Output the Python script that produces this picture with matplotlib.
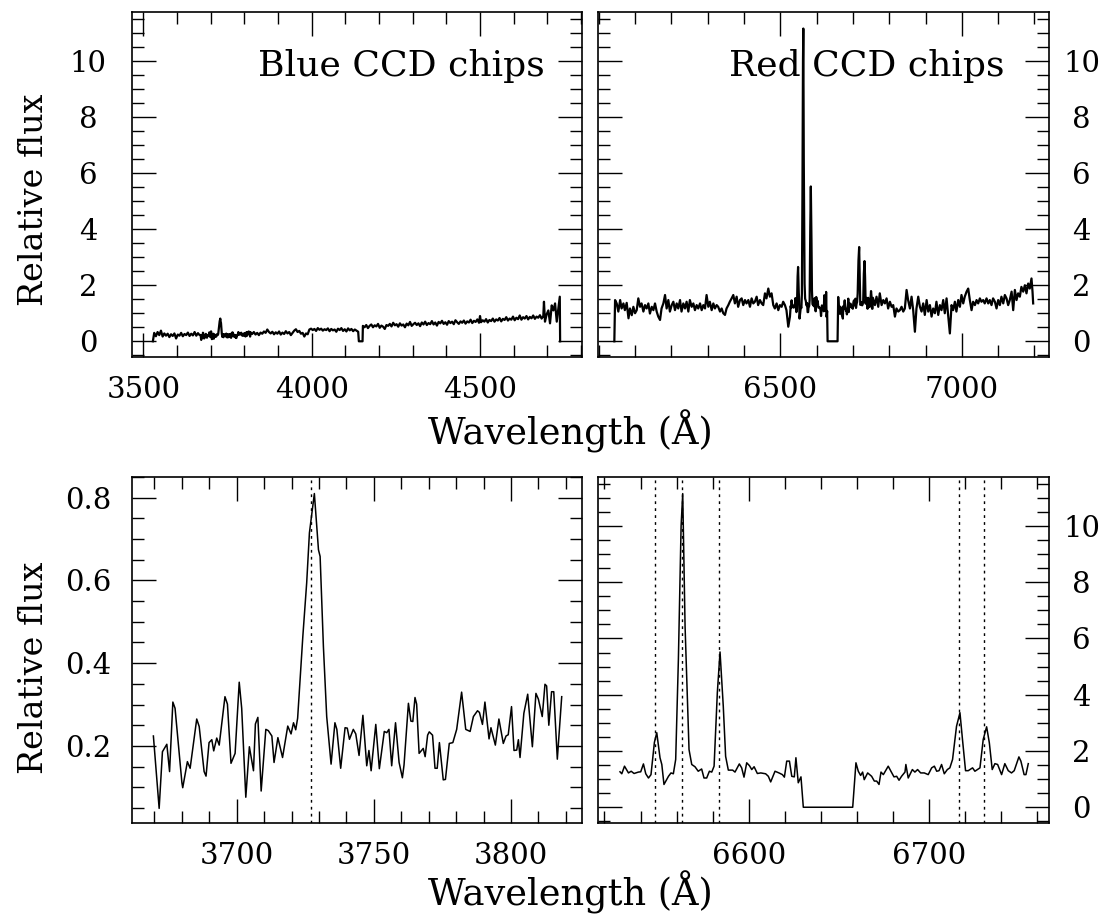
import matplotlib
matplotlib.use("Agg")
import matplotlib.pyplot as plt
from matplotlib.ticker import MultipleLocator, FixedLocator, FormatStrFormatter

plt.rcParams['font.family'] = ['DejaVu Serif']

# ---------------- data ----------------
# Zoomed blue region around [OII] 3727 (bottom-left panel)
blue_zoom_wave = [3669.6, 3671.7, 3672.9, 3674.5, 3675.5, 3676.7, 3677.5, 3680.0, 3680.3, 3682.0,
                  3683.0, 3685.4, 3686.3, 3688.1, 3688.8, 3689.9, 3690.9, 3691.6, 3692.7, 3693.6,
                  3695.7, 3696.6, 3697.9, 3699.4, 3700.9, 3701.8, 3703.3, 3704.6, 3706.1, 3706.8,
                  3707.7, 3708.9, 3710.6, 3711.5, 3712.8, 3713.6, 3715.0, 3716.7, 3718.6, 3719.8,
                  3720.7, 3721.5, 3722.2, 3724.1, 3725.5, 3726.5, 3728.3, 3729.8, 3730.4, 3731.6,
                  3732.8, 3734.4, 3735.8, 3736.5, 3737.9, 3739.5, 3740.3, 3741.1, 3742.5, 3743.4,
                  3744.6, 3746.0, 3747.4, 3748.2, 3749.0, 3750.7, 3752.0, 3753.8, 3754.7, 3755.5,
                  3756.5, 3757.9, 3759.2, 3760.4, 3761.0, 3762.6, 3763.5, 3764.2, 3765.0, 3765.6,
                  3766.5, 3768.0, 3768.7, 3769.6, 3770.2, 3771.4, 3772.3, 3773.1, 3773.9, 3775.3,
                  3776.1, 3777.5, 3778.8, 3780.2, 3782.0, 3783.5, 3785.1, 3786.3, 3787.8, 3788.5,
                  3789.6, 3790.5, 3792.0, 3792.7, 3794.3, 3795.6, 3797.2, 3798.2, 3799.0, 3800.2,
                  3801.1, 3802.1, 3802.7, 3803.3, 3804.7, 3806.1, 3807.8, 3809.1, 3810.0, 3811.4,
                  3812.4, 3813.0, 3813.8, 3814.8, 3815.6, 3816.9, 3818.5]
blue_zoom_flux = [0.224, 0.049, 0.186, 0.204, 0.138, 0.306, 0.291, 0.111, 0.099, 0.162,
                  0.146, 0.265, 0.247, 0.138, 0.127, 0.208, 0.215, 0.188, 0.219, 0.202,
                  0.319, 0.301, 0.158, 0.182, 0.354, 0.291, 0.076, 0.198, 0.140, 0.253,
                  0.269, 0.091, 0.240, 0.237, 0.224, 0.160, 0.220, 0.172, 0.248, 0.229,
                  0.256, 0.239, 0.267, 0.465, 0.594, 0.715, 0.810, 0.674, 0.658, 0.440,
                  0.271, 0.156, 0.256, 0.240, 0.146, 0.244, 0.243, 0.216, 0.240, 0.229,
                  0.177, 0.274, 0.152, 0.189, 0.140, 0.252, 0.145, 0.235, 0.232, 0.240,
                  0.152, 0.256, 0.160, 0.123, 0.154, 0.303, 0.260, 0.259, 0.317, 0.301,
                  0.182, 0.194, 0.174, 0.226, 0.234, 0.226, 0.146, 0.146, 0.208, 0.118,
                  0.119, 0.206, 0.208, 0.240, 0.330, 0.240, 0.235, 0.271, 0.285, 0.281,
                  0.252, 0.306, 0.217, 0.244, 0.202, 0.265, 0.206, 0.224, 0.227, 0.295,
                  0.189, 0.190, 0.215, 0.172, 0.279, 0.325, 0.198, 0.327, 0.313, 0.271,
                  0.349, 0.345, 0.250, 0.331, 0.331, 0.168, 0.319]

# Zoomed red region around Halpha (bottom-right panel)
red_zoom_wave = [6528.6, 6529.6, 6531.1, 6533.3, 6534.8, 6536.4, 6538.8, 6540.1, 6541.6, 6542.9,
                 6544.4, 6545.8, 6547.7, 6549.0, 6550.8, 6551.8, 6553.0, 6555.5, 6556.9, 6558.2,
                 6559.5, 6561.0, 6562.5, 6563.4, 6564.7, 6566.9, 6568.4, 6570.2, 6572.0, 6573.9,
                 6575.2, 6576.7, 6578.2, 6579.5, 6580.8, 6582.6, 6584.1, 6585.9, 6587.2, 6588.7,
                 6591.1, 6592.4, 6594.8, 6596.1, 6597.4, 6598.9, 6600.4, 6601.7, 6603.0, 6604.8,
                 6606.7, 6609.4, 6610.9, 6612.2, 6614.6, 6616.8, 6618.7, 6619.8, 6621.1, 6622.6,
                 6623.9, 6625.3, 6626.2, 6627.5, 6629.0, 6630.3, 6657.7, 6659.5, 6660.8, 6662.1,
                 6663.2, 6664.1, 6666.0, 6668.2, 6669.7, 6671.0, 6672.3, 6673.4, 6674.7, 6677.4,
                 6678.9, 6680.6, 6682.1, 6683.4, 6684.8, 6686.7, 6687.2, 6688.5, 6690.8, 6692.2,
                 6693.7, 6695.4, 6697.4, 6699.6, 6701.5, 6703.0, 6704.3, 6705.6, 6707.0, 6708.5,
                 6710.2, 6711.6, 6713.1, 6715.3, 6717.2, 6718.6, 6720.3, 6721.8, 6724.2, 6725.5,
                 6728.3, 6730.1, 6732.0, 6733.5, 6735.1, 6736.6, 6738.1, 6740.3, 6742.1, 6744.0,
                 6745.8, 6747.3, 6749.9, 6751.0, 6752.8, 6753.8, 6755.1]
red_zoom_flux = [1.26, 1.19, 1.46, 1.22, 1.28, 1.20, 1.25, 1.26, 1.54, 1.19,
                 1.04, 1.16, 2.31, 2.65, 1.76, 1.52, 0.81, 1.10, 1.22, 1.19,
                 1.70, 5.26, 10.0, 11.15, 6.44, 2.05, 1.52, 1.44, 1.28, 1.36,
                 1.04, 1.04, 1.28, 1.25, 1.46, 4.07, 5.52, 3.59, 1.81, 1.32,
                 1.32, 1.25, 1.54, 1.40, 1.07, 1.58, 1.48, 1.34, 1.44, 1.20,
                 1.22, 1.19, 1.10, 0.90, 1.28, 1.22, 1.16, 1.07, 1.64, 1.64,
                 1.10, 1.08, 1.76, 0.87, 1.08, 0.0, 0.0, 1.58, 1.28, 1.13,
                 1.25, 0.98, 1.22, 1.10, 0.93, 0.93, 0.81, 1.25, 1.16, 1.46,
                 1.28, 1.08, 1.10, 0.96, 1.10, 1.25, 1.52, 1.04, 1.34, 1.25,
                 1.34, 1.22, 1.22, 1.16, 1.40, 1.46, 1.28, 1.30, 1.52, 1.19,
                 1.34, 1.40, 1.70, 2.88, 3.36, 2.41, 1.30, 1.30, 1.40, 1.28,
                 1.40, 2.41, 2.86, 2.29, 1.34, 1.55, 1.52, 1.16, 1.55, 1.30,
                 1.22, 1.30, 1.79, 1.64, 1.16, 1.16, 1.55]

# Full blue-chip spectrum outside the zoomed window
blue_pre_wave = [3528, 3532, 3537, 3542, 3547, 3552, 3557, 3562, 3567, 3572,
                 3577, 3582, 3587, 3592, 3597, 3602, 3607, 3612, 3617, 3622,
                 3627, 3632, 3637, 3642, 3647, 3652, 3657, 3662, 3666]
blue_pre_flux = [0.0, 0.30, 0.18, 0.33, 0.22, 0.38, 0.17, 0.28, 0.20, 0.27,
                 0.15, 0.25, 0.19, 0.28, 0.10, 0.24, 0.20, 0.30, 0.18, 0.26,
                 0.22, 0.31, 0.19, 0.27, 0.21, 0.33, 0.20, 0.29, 0.23]
blue_post_wave = [3823, 3828, 3833, 3838, 3843, 3848, 3853, 3858, 3863, 3868,
                  3873, 3878, 3883, 3888, 3893, 3898, 3903, 3908, 3913, 3918,
                  3923, 3928, 3933, 3938, 3943, 3948, 3953, 3958, 3963, 3968,
                  3973, 3978, 3983, 3988, 3993, 3998, 4003, 4008, 4013, 4018,
                  4023, 4028, 4033, 4038, 4043, 4048, 4053, 4058, 4063, 4068,
                  4073, 4078, 4083, 4088, 4093, 4098, 4103, 4108, 4113, 4118,
                  4123, 4128, 4133, 4138, 4140, 4151, 4152, 4157, 4162, 4167,
                  4172, 4177, 4182, 4187, 4192, 4197, 4202, 4207, 4212, 4217,
                  4222, 4227, 4232, 4237, 4242, 4247, 4252, 4257, 4262, 4267,
                  4272, 4277, 4282, 4287, 4292, 4297, 4302, 4307, 4312, 4317,
                  4322, 4327, 4332, 4337, 4342, 4347, 4352, 4357, 4362, 4367,
                  4372, 4377, 4382, 4387, 4392, 4397, 4402, 4407, 4412, 4417,
                  4422, 4427, 4432, 4437, 4442, 4447, 4452, 4457, 4462, 4467,
                  4472, 4477, 4482, 4487, 4492, 4497, 4500, 4503, 4508, 4513,
                  4518, 4523, 4528, 4533, 4538, 4543, 4548, 4553, 4558, 4563,
                  4568, 4573, 4578, 4583, 4588, 4593, 4598, 4603, 4608, 4613,
                  4618, 4623, 4628, 4633, 4638, 4643, 4648, 4653, 4658, 4663,
                  4668, 4673, 4678, 4683, 4688, 4690, 4693, 4698, 4703, 4708,
                  4713, 4718, 4723, 4728, 4733, 4737, 4738]
blue_post_flux = [0.26, 0.33, 0.24, 0.30, 0.22, 0.31, 0.27, 0.35, 0.30, 0.42,
                  0.33, 0.28, 0.34, 0.25, 0.32, 0.27, 0.35, 0.24, 0.31, 0.26,
                  0.36, 0.28, 0.33, 0.22, 0.30, 0.38, 0.43, 0.33, 0.37, 0.27,
                  0.30, 0.17, 0.28, 0.25, 0.42, 0.45, 0.40, 0.44, 0.37, 0.47,
                  0.41, 0.45, 0.38, 0.43, 0.40, 0.46, 0.36, 0.44, 0.39, 0.42,
                  0.34, 0.45, 0.40, 0.47, 0.37, 0.43, 0.35, 0.46, 0.39, 0.44,
                  0.36, 0.42, 0.38, 0.34, 0.0, 0.0, 0.55, 0.50, 0.58, 0.47,
                  0.55, 0.60, 0.50, 0.57, 0.53, 0.62, 0.48, 0.56, 0.52, 0.44,
                  0.58, 0.55, 0.62, 0.53, 0.66, 0.57, 0.61, 0.52, 0.64, 0.56,
                  0.60, 0.50, 0.63, 0.57, 0.69, 0.55, 0.61, 0.66, 0.58, 0.64,
                  0.54, 0.67, 0.60, 0.70, 0.58, 0.65, 0.61, 0.72, 0.60, 0.67,
                  0.56, 0.69, 0.64, 0.73, 0.62, 0.68, 0.59, 0.72, 0.65, 0.70,
                  0.61, 0.75, 0.68, 0.62, 0.71, 0.66, 0.74, 0.63, 0.71, 0.67,
                  0.77, 0.65, 0.73, 0.69, 0.78, 0.66, 0.90, 0.68, 0.75, 0.70,
                  0.79, 0.67, 0.76, 0.72, 0.81, 0.70, 0.78, 0.74, 0.83, 0.71,
                  0.80, 0.76, 0.86, 0.74, 0.81, 0.77, 0.88, 0.75, 0.84, 0.79,
                  0.92, 0.77, 0.86, 0.81, 0.90, 0.78, 0.87, 0.82, 0.92, 0.80,
                  0.88, 0.84, 0.93, 0.81, 0.90, 1.41, 0.70, 0.96, 1.10, 0.64,
                  1.28, 1.10, 1.35, 0.70, 1.20, 1.59, 0.0]

# Full red-chip spectrum outside the zoomed window
red_pre_wave = [6043, 6045, 6049.5, 6054, 6059, 6063, 6068, 6072, 6077, 6082,
                6086, 6091, 6095.4, 6100, 6104.6, 6109, 6113.8, 6118, 6123, 6127.5,
                6132, 6136.7, 6141, 6146, 6150.5, 6155, 6159.6, 6164, 6168.8, 6173,
                6178, 6182.6, 6187, 6191.7, 6196, 6201, 6205.5, 6210, 6214.7, 6219,
                6223.9, 6228, 6233, 6237.6, 6242, 6246.8, 6251, 6256, 6260.6, 6265,
                6269.7, 6274, 6279, 6283.5, 6288, 6292.7, 6297, 6301.8, 6306, 6311,
                6315.6, 6320, 6324.8, 6329, 6334, 6338.5, 6343, 6347.7, 6352, 6356.9,
                6361, 6366, 6370.6, 6375, 6379.8, 6384, 6389, 6393.6, 6398, 6402.8,
                6407, 6412, 6416.5, 6421, 6425.7, 6430, 6434.9, 6439, 6444, 6448.6,
                6453, 6457.8, 6462, 6467, 6471.4, 6476, 6480.7, 6485, 6489.9, 6494.5,
                6499, 6503.7, 6508, 6512.8, 6517, 6522, 6526.6]
red_pre_flux = [0.0, 1.47, 1.35, 1.06, 1.47, 1.17, 1.35, 1.11, 1.37, 0.82,
                1.17, 0.93, 1.23, 1.00, 1.11, 1.53, 1.23, 1.35, 1.06, 1.29,
                1.17, 1.35, 0.99, 1.23, 1.11, 1.35, 1.06, 0.88, 0.76, 1.17,
                1.35, 1.65, 1.17, 1.47, 1.06, 1.29, 1.41, 1.11, 1.35, 1.17,
                1.47, 1.06, 1.35, 1.17, 1.41, 1.06, 1.47, 1.23, 1.35, 1.11,
                1.29, 1.17, 1.35, 1.11, 1.29, 1.17, 1.65, 1.23, 1.41, 1.11,
                1.35, 1.17, 1.29, 1.23, 1.06, 1.17, 1.00, 0.94, 1.17, 1.29,
                1.41, 1.53, 1.65, 1.35, 1.59, 1.23, 1.47, 1.53, 1.29, 1.47,
                1.35, 1.47, 1.23, 1.53, 1.35, 1.41, 1.59, 1.29, 1.47, 1.35,
                1.29, 1.71, 1.53, 1.88, 1.59, 1.71, 1.29, 1.17, 1.35, 1.11,
                1.29, 1.23, 1.41, 1.29, 1.11, 0.52, 0.88]
red_post_wave = [6760.6, 6765, 6769.8, 6774, 6779, 6783.6, 6788, 6792.7, 6797, 6801.9,
                 6806.5, 6811, 6815.7, 6820, 6824.8, 6829.4, 6834, 6838.6, 6843, 6847.8,
                 6852, 6857, 6861.5, 6866, 6870.7, 6875, 6879.9, 6884.5, 6889, 6893.6,
                 6898, 6903, 6907.4, 6912, 6916.6, 6921, 6925.8, 6930, 6935, 6939.5,
                 6944, 6948.7, 6953, 6957.9, 6962.5, 6967, 6971.6, 6976, 6980.8, 6985,
                 6990, 6994.6, 6999, 7003.8, 7008, 7013, 7017.5, 7022, 7026.7, 7031,
                 7036, 7040.5, 7045, 7049.6, 7054, 7058.8, 7063, 7068, 7072.6, 7077,
                 7081.7, 7086, 7091, 7095.5, 7100, 7104.7, 7109, 7114, 7118.4, 7123,
                 7127.6, 7132, 7137, 7141.4, 7146, 7150.6, 7155, 7159.7, 7164, 7169,
                 7173.5, 7178, 7182.7, 7187, 7191.8, 7194.6, 7196.4]
red_post_flux = [1.29, 1.59, 1.23, 1.71, 1.29, 1.47, 1.35, 1.53, 1.17, 1.41,
                 1.23, 1.29, 0.88, 1.17, 1.06, 1.11, 1.23, 1.06, 1.17, 1.83,
                 1.47, 1.17, 1.59, 1.11, 0.34, 1.17, 1.59, 1.23, 1.06, 1.35,
                 0.94, 1.47, 1.06, 1.29, 0.88, 1.17, 1.00, 1.41, 0.94, 1.29,
                 1.11, 1.47, 1.00, 1.53, 0.88, 0.28, 1.29, 1.11, 1.41, 1.06,
                 1.47, 1.23, 1.65, 1.35, 1.59, 1.77, 1.88, 1.47, 1.11, 1.41,
                 1.29, 1.47, 1.35, 1.53, 1.41, 1.47, 1.35, 1.53, 1.35, 1.47,
                 1.29, 1.53, 1.41, 1.17, 1.47, 1.29, 1.59, 1.35, 1.65, 1.53,
                 1.29, 1.47, 1.77, 1.11, 1.83, 1.47, 1.71, 1.59, 1.94, 1.77,
                 2.00, 1.71, 2.06, 1.88, 2.24, 1.77, 1.35]

# Emission-line markers (dotted)
oii_lines = [3727.1]
red_lines = [6548.1, 6562.8, 6583.4, 6716.6, 6730.8]

# Tick settings
tl_major = [3500, 4000, 4500]
tr_major = [6500, 7000]
bl_major = [3700, 3750, 3800]
br_major = [6600, 6700]

# ---------------- figure ----------------
W, H = 1117, 923
fig = plt.figure(figsize=(W / 100, H / 100), dpi=100)

def box(x0, y0, x1, y1):
    return [x0 / W, 1 - y1 / H, (x1 - x0) / W, (y1 - y0) / H]

ax_tl = fig.add_axes(box(132, 12, 582, 357))
ax_tr = fig.add_axes(box(598, 12, 1049, 357))
ax_bl = fig.add_axes(box(132, 477, 582, 823))
ax_br = fig.add_axes(box(598, 477, 1049, 823))

blue_w = blue_pre_wave + blue_zoom_wave + blue_post_wave
blue_f = blue_pre_flux + blue_zoom_flux + blue_post_flux
red_w = red_pre_wave + red_zoom_wave + red_post_wave
red_f = red_pre_flux + red_zoom_flux + red_post_flux

ax_tl.plot(blue_w, blue_f, color='black', lw=1.6)
ax_tr.plot(red_w, red_f, color='black', lw=1.6)
ax_bl.plot(blue_zoom_wave, blue_zoom_flux, color='black', lw=1.1)
ax_br.plot(red_zoom_wave, red_zoom_flux, color='black', lw=1.1)

for w in oii_lines:
    ax_bl.axvline(w, color='black', lw=1.0, ls=(0, (2, 3)))
for w in red_lines:
    ax_br.axvline(w, color='black', lw=1.0, ls=(0, (2, 3)))

ax_tl.set_xlim(3466, 4803)
ax_tr.set_xlim(5998, 7240)
ax_bl.set_xlim(3661.8, 3825.9)
ax_br.set_xlim(6516.4, 6766.6)
for a in (ax_tl, ax_tr, ax_br):
    a.set_ylim(-0.56, 11.74)
ax_bl.set_ylim(0.0137, 0.850)

ax_tl.xaxis.set_major_locator(FixedLocator(tl_major))
ax_tl.xaxis.set_minor_locator(MultipleLocator(100))
ax_tr.xaxis.set_major_locator(FixedLocator(tr_major))
ax_tr.xaxis.set_minor_locator(MultipleLocator(100))
ax_bl.xaxis.set_major_locator(FixedLocator(bl_major))
ax_bl.xaxis.set_minor_locator(MultipleLocator(10))
ax_br.xaxis.set_major_locator(FixedLocator(br_major))
ax_br.xaxis.set_minor_locator(MultipleLocator(20))
for a in (ax_tl, ax_tr, ax_br):
    a.yaxis.set_major_locator(MultipleLocator(2))
    a.yaxis.set_minor_locator(MultipleLocator(0.5))
    a.yaxis.set_major_formatter(FormatStrFormatter('%d'))
ax_bl.yaxis.set_major_locator(MultipleLocator(0.2))
ax_bl.yaxis.set_minor_locator(MultipleLocator(0.05))
ax_bl.yaxis.set_major_formatter(FormatStrFormatter('%.1f'))

TICK_FS = 21
for a in (ax_tl, ax_tr, ax_bl, ax_br):
    for s in a.spines.values():
        s.set_linewidth(1.2)
    a.tick_params(which='both', direction='in', top=True, right=True, left=True, bottom=True,
                  width=1.0, labelsize=TICK_FS, colors='black')
    a.tick_params(which='major', length=17)
    a.tick_params(which='minor', length=8.5)
    a.tick_params(axis='x', which='major', pad=14)

for a in (ax_tl, ax_bl):
    a.tick_params(axis='y', labelleft=True, labelright=False, pad=31.5)
    for lab in a.get_yticklabels():
        lab.set_horizontalalignment('center')
for a in (ax_tr, ax_br):
    a.tick_params(axis='y', labelleft=False, labelright=True, pad=23.5)
    for lab in a.get_yticklabels():
        lab.set_horizontalalignment('center')

ax_tl.text(0.918, 0.8145, 'Blue CCD chips', transform=ax_tl.transAxes,
           ha='right', va='baseline', fontsize=26, zorder=1)
ax_tr.text(0.9024, 0.8145, 'Red CCD chips', transform=ax_tr.transAxes,
           ha='right', va='baseline', fontsize=26, zorder=1)

fig.text(570 / W, 1 - 445 / H, 'Wavelength (Å)', ha='center', va='baseline', fontsize=26.5)
fig.text(570 / W, 1 - 905 / H, 'Wavelength (Å)', ha='center', va='baseline', fontsize=26.5)
fig.text(34 / W, 1 - 200 / H, 'Relative flux', ha='center', va='center', rotation=90, fontsize=24)
fig.text(34 / W, 1 - 668 / H, 'Relative flux', ha='center', va='center', rotation=90, fontsize=24)

fig.savefig('out.png', dpi=100)
